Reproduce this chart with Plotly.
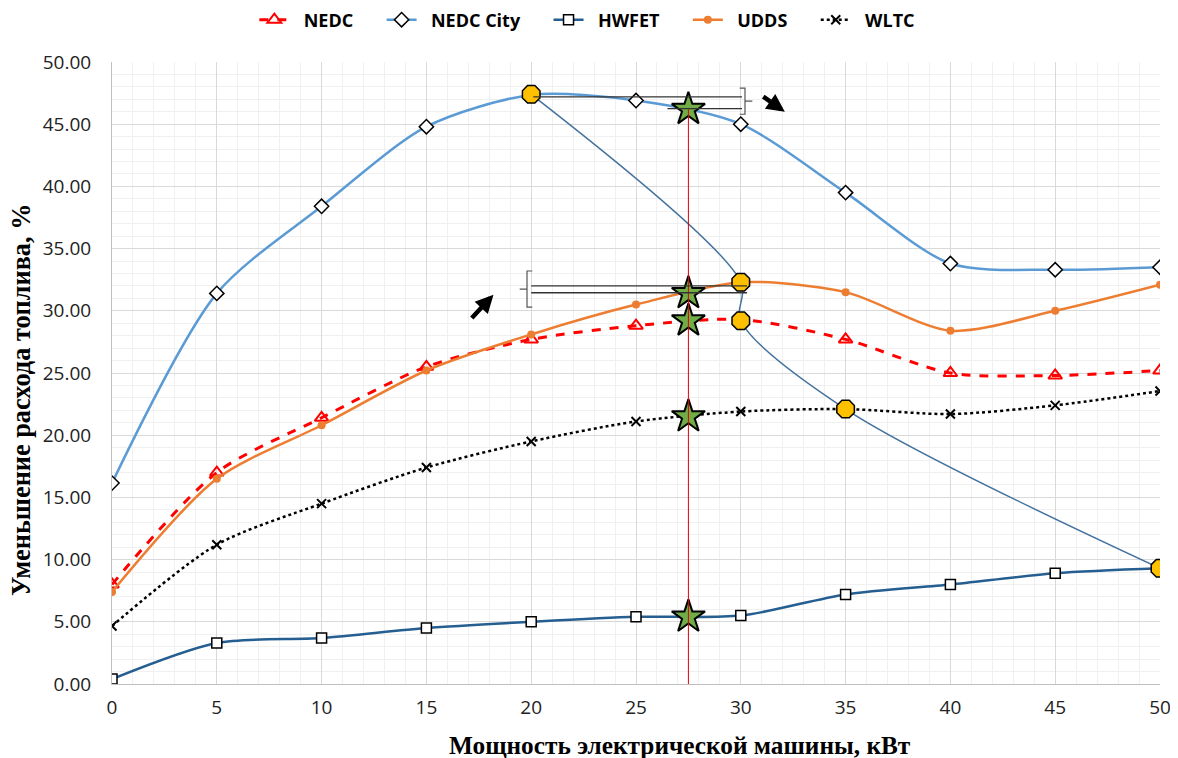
import plotly.graph_objects as go

power_kw = [0, 5, 10, 15, 20, 25, 30, 35, 40, 45, 50]
nedc = [8.0, 17.0, 21.4, 25.5, 27.7, 28.8, 29.3, 27.7, 25.0, 24.8, 25.2]
nedc_city = [16.15, 31.4, 38.4, 44.8, 47.35, 46.9, 45.0, 39.5, 33.8, 33.3, 33.5]
hwfet = [0.4, 3.3, 3.7, 4.5, 5.0, 5.4, 5.5, 7.2, 8.0, 8.9, 9.3]
udds = [7.4, 16.5, 20.8, 25.2, 28.1, 30.5, 32.3, 31.5, 28.4, 30.0, 32.1]
wltc = [4.66, 11.2, 14.5, 17.4, 19.5, 21.1, 21.9, 22.1, 21.7, 22.4, 23.55]

# optimum points (gold markers) and connecting curve
opt_x = [20, 30, 30, 35, 50]
opt_y = [47.4, 32.3, 29.2, 22.1, 9.3]

# chosen power (green stars)
star_x_value = 27.5
star_y = [46.2, 31.4, 29.2, 21.5, 5.4]

# annotation geometry (data units)
top_lines = [((20.1, 47.2), (30.06, 47.2)), ((26.5, 46.25), (30.06, 46.25))]
mid_lines = [((20.0, 32.0), (30.3, 32.0)), ((20.0, 31.45), (30.3, 31.45))]
top_bracket = dict(x=30.2, y0=45.8, y1=47.9)
mid_bracket = dict(x=19.8, y0=30.3, y1=33.2)
arrows = [((31.0, 47.3), (32.1, 46.0)), ((17.1, 29.3), (18.2, 31.3))]

x_title = "Мощность электрической машины, кВт"
y_title = "Уменьшение расхода топлива, %"

NB = "\u00a0"
def lname(s):
    return NB * 2 + s + NB * 5

fig = go.Figure()

fig.add_trace(go.Scatter(
    x=power_kw, y=nedc, name=lname("NEDC"), mode="lines+markers",
    line=dict(color="#FF0000", width=3, dash="dash", shape="spline", smoothing=0.8),
    marker=dict(symbol="triangle-up-open", size=12, color="#FF0000", line=dict(width=2))))
fig.add_trace(go.Scatter(
    x=power_kw, y=nedc_city, name=lname("NEDC City"), mode="lines+markers",
    line=dict(color="#5B9BD5", width=2.5, shape="spline", smoothing=0.8),
    marker=dict(symbol="diamond", size=11, color="white", line=dict(color="black", width=1.5))))
fig.add_trace(go.Scatter(
    x=power_kw, y=hwfet, name=lname("HWFET"), mode="lines+markers",
    line=dict(color="#255E91", width=2.5, shape="spline", smoothing=0.8),
    marker=dict(symbol="square", size=10, color="white", line=dict(color="black", width=1.5))))
fig.add_trace(go.Scatter(
    x=power_kw, y=udds, name=lname("UDDS"), mode="lines+markers",
    line=dict(color="#ED7D31", width=2.5, shape="spline", smoothing=0.8),
    marker=dict(symbol="circle", size=8, color="#ED7D31")))
fig.add_trace(go.Scatter(
    x=power_kw, y=wltc, name=lname("WLTC"), mode="lines+markers",
    line=dict(color="black", width=2.5, dash="dot", shape="spline", smoothing=0.8),
    marker=dict(symbol="x-thin", size=9, color="black", line=dict(color="black", width=2))))

# optimum curve
fig.add_trace(go.Scatter(
    x=opt_x, y=opt_y, mode="lines", showlegend=False, hoverinfo="skip",
    line=dict(color="#44729E", width=1.5, shape="spline", smoothing=0.9)))

# vertical line at chosen power
fig.add_shape(type="line", x0=star_x_value, x1=star_x_value, y0=0, y1=max(star_y),
              line=dict(color="#E00000", width=1))

# bracket lines
for (p0, p1) in top_lines + mid_lines:
    fig.add_shape(type="line", x0=p0[0], y0=p0[1], x1=p1[0], y1=p1[1],
                  line=dict(color="#333333", width=1.3))

tb = top_bracket
fig.add_shape(type="path",
              path=f"M {tb['x']-0.25},{tb['y1']} L {tb['x']},{tb['y1']} L {tb['x']},{tb['y0']} L {tb['x']-0.25},{tb['y0']} "
                   f"M {tb['x']},{(tb['y0']+tb['y1'])/2} L {tb['x']+0.35},{(tb['y0']+tb['y1'])/2}",
              line=dict(color="#555555", width=1.2))
mb = mid_bracket
fig.add_shape(type="path",
              path=f"M {mb['x']+0.25},{mb['y1']} L {mb['x']},{mb['y1']} L {mb['x']},{mb['y0']} L {mb['x']+0.25},{mb['y0']} "
                   f"M {mb['x']},{(mb['y0']+mb['y1'])/2} L {mb['x']-0.35},{(mb['y0']+mb['y1'])/2}",
              line=dict(color="#555555", width=1.2))

for (tail, head) in arrows:
    fig.add_annotation(x=head[0], y=head[1], ax=tail[0], ay=tail[1],
                       xref="x", yref="y", axref="x", ayref="y",
                       showarrow=True, arrowhead=2, arrowsize=0.8, arrowwidth=4.5,
                       arrowcolor="black", text="")

# optimum markers
fig.add_trace(go.Scatter(
    x=opt_x, y=opt_y, mode="markers", showlegend=False, hoverinfo="skip",
    marker=dict(symbol="octagon", size=19, color="#FFC000", line=dict(color="black", width=1.5))))

# stars
fig.add_trace(go.Scatter(
    x=[star_x_value] * len(star_y), y=star_y, mode="markers", showlegend=False, hoverinfo="skip",
    marker=dict(symbol="star", size=25, color="#70AD47", line=dict(color="black", width=2))))

# axis titles as annotations for exact placement
fig.add_annotation(text=x_title, xref="paper", yref="paper", x=0.542, y=-0.098,
                   xanchor="center", yanchor="middle", showarrow=False,
                   font=dict(family="Liberation Serif, serif", size=25.3, color="black", weight="bold"))
fig.add_annotation(text=y_title, xref="paper", yref="paper", x=-0.0859, y=0.4566,
                   xanchor="center", yanchor="middle", showarrow=False, textangle=-90,
                   font=dict(family="Liberation Serif, serif", size=26.3, color="black", weight="bold"))

# the page body has an 8px margin, so the figure is sized/offset to compensate
fig.update_layout(
    width=1170, height=750,
    paper_bgcolor="white", plot_bgcolor="white",
    margin=dict(l=104, r=18, t=54, b=74),
    font=dict(family="Open Sans, Noto Sans, sans-serif", color="#222222"),
    legend=dict(orientation="h", xref="container", yref="container", x=0.505, xanchor="center",
                y=0.984, yanchor="middle",
                font=dict(size=18, color="black", weight="bold"), traceorder="normal"),
    xaxis=dict(range=[0, 50], dtick=5, tick0=0, showgrid=True, gridcolor="#D9D9D9",
               minor=dict(dtick=1, showgrid=True, gridcolor="#F0F0F0"),
               showline=True, linecolor="#BFBFBF", zeroline=False, automargin=False,
               tickfont=dict(size=19, color="#222222"), ticks="", ticklabelstandoff=6),
    yaxis=dict(range=[0, 50], dtick=5, tick0=0, tickformat=".2f", showgrid=True, gridcolor="#D9D9D9",
               minor=dict(dtick=1, showgrid=True, gridcolor="#F0F0F0"),
               showline=True, linecolor="#BFBFBF", zeroline=False, automargin=False,
               tickfont=dict(size=19, color="#222222"), ticks="", ticklabelstandoff=16),
)

fig.write_html("out.html")
